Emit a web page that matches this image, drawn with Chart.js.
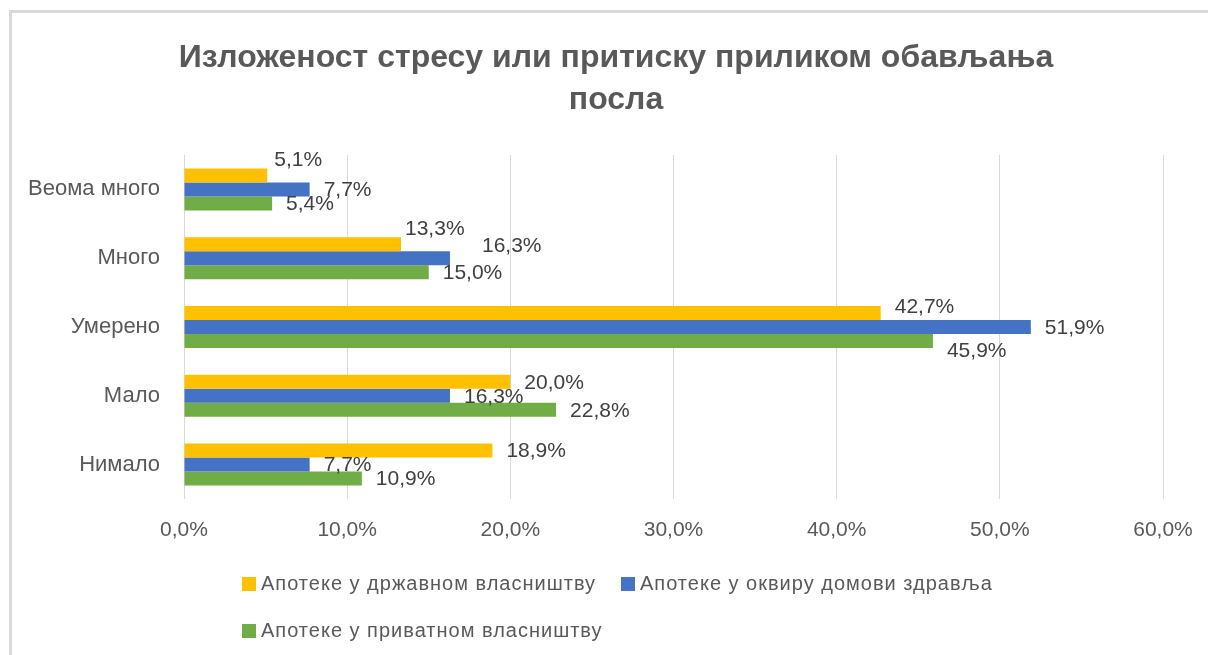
<!DOCTYPE html>
<html><head><meta charset="utf-8">
<script src="https://cdn.jsdelivr.net/npm/chart.js@4/dist/chart.umd.min.js"></script>
<style>html,body{margin:0;padding:0;background:#fff;overflow:hidden}#wrap{width:1208px;height:655px;position:relative}</style>
</head><body><div id="wrap"><canvas id="c" width="1208" height="655"></canvas></div>
<script>
const categories = ['Веома много', 'Много', 'Умерено', 'Мало', 'Нимало'];
const seriesNames = ['Апотеке у државном власништву', 'Апотеке у оквиру домови здравља', 'Апотеке у приватном власништву'];
const stateOwned = [5.1, 13.3, 42.7, 20.0, 18.9];
const healthCenters = [7.7, 16.3, 51.9, 16.3, 7.7];
const privateOwned = [5.4, 15.0, 45.9, 22.8, 10.9];
const xTickValues = [0, 10, 20, 30, 40, 50, 60];
const titleLines = ['Изложеност стресу или притиску приликом обављања', 'посла'];

const FONT = "'Liberation Sans', Arial, sans-serif";
const fmt = v => v.toFixed(1).replace('.', ',') + '%';

const frame = {
  id: 'frame',
  beforeDraw(chart) {
    const c = chart.ctx;
    c.save();
    c.fillStyle = '#ffffff';
    c.fillRect(0, 0, chart.width, chart.height);
    c.fillStyle = '#d9d9d9';
    c.fillRect(9, 10, chart.width - 9, 3);
    c.fillRect(9, 10, 3, chart.height - 10);
    c.restore();
  }
};

const barLabels = {
  id: 'barLabels',
  afterDatasetsDraw(chart, args, opts) {
    const c = chart.ctx;
    c.save();
    c.font = '21px ' + FONT;
    c.fillStyle = '#404040';
    c.textAlign = 'left';
    c.textBaseline = 'middle';
    chart.data.datasets.forEach((ds, di) => {
      const meta = chart.getDatasetMeta(di);
      meta.data.forEach((bar, i) => {
        const n = opts.nudge[di + ',' + i] || [0, opts.dy];
        c.fillText(fmt(ds.data[i]), bar.x + opts.gap + n[0], bar.y + n[1]);
      });
    });
    c.restore();
  }
};

const gridLegend = {
  id: 'gridLegend',
  afterDraw(chart, args, opts) {
    const c = chart.ctx;
    c.save();
    c.font = '20px ' + FONT;
    c.textAlign = 'left';
    c.textBaseline = 'middle';
    if ('letterSpacing' in c) c.letterSpacing = '1px';
    chart.data.datasets.forEach((ds, i) => {
      const col = i % 2, row = Math.floor(i / 2);
      const x = opts.left + col * opts.colWidth;
      const y = opts.top + row * opts.rowHeight;
      c.fillStyle = ds.backgroundColor;
      c.fillRect(x, y - 7, 14, 14);
      c.fillStyle = '#595959';
      c.fillText(ds.label, x + 19, y);
    });
    c.restore();
  }
};

new Chart(document.getElementById('c'), {
  type: 'bar',
  data: {
    labels: categories,
    datasets: [
      { label: seriesNames[0], data: stateOwned, backgroundColor: '#FFC000' },
      { label: seriesNames[1], data: healthCenters, backgroundColor: '#4472C4' },
      { label: seriesNames[2], data: privateOwned, backgroundColor: '#70AD47' }
    ]
  },
  options: {
    indexAxis: 'y',
    responsive: false,
    animation: false,
    devicePixelRatio: 1,
    categoryPercentage: 0.61,
    barPercentage: 1.0,
    layout: { padding: { left: 24, right: 0, top: 0, bottom: 0 } },
    plugins: {
      legend: { display: false },
      tooltip: { enabled: false },
      title: {
        display: true,
        text: titleLines,
        color: '#595959',
        font: { family: FONT, size: 32, weight: 'bold', lineHeight: '42px' },
        padding: { top: 37, bottom: 34 }
      },
      barLabels: {
        gap: 14, dy: 1,
        nudge: { '0,0': [-7, -15], '0,1': [-10, -15.5], '1,1': [18, -11.5], '0,2': [0, -6], '2,2': [0, 10.5] }
      },
      gridLegend: { left: 242, colWidth: 379, top: 584, rowHeight: 47 }
    },
    scales: {
      x: {
        min: 0, max: 60,
        afterBuildTicks(scale) { scale.ticks = xTickValues.map(v => ({ value: v })); },
        afterFit(scale) { scale.height = 156; scale.paddingRight = 45; },
        ticks: { callback: v => fmt(v), color: '#595959', font: { family: FONT, size: 21 }, padding: 19, maxRotation: 0 },
        grid: { color: '#d9d9d9', drawTicks: false, tickLength: 0 },
        border: { display: false }
      },
      y: {
        afterFit(scale) { scale.width = 160; },
        ticks: { color: '#595959', font: { family: FONT, size: 22 }, padding: 24 },
        grid: { display: false, drawTicks: false, tickLength: 0 },
        border: { display: false }
      }
    }
  },
  plugins: [frame, barLabels, gridLegend]
});
</script>
</body></html>
